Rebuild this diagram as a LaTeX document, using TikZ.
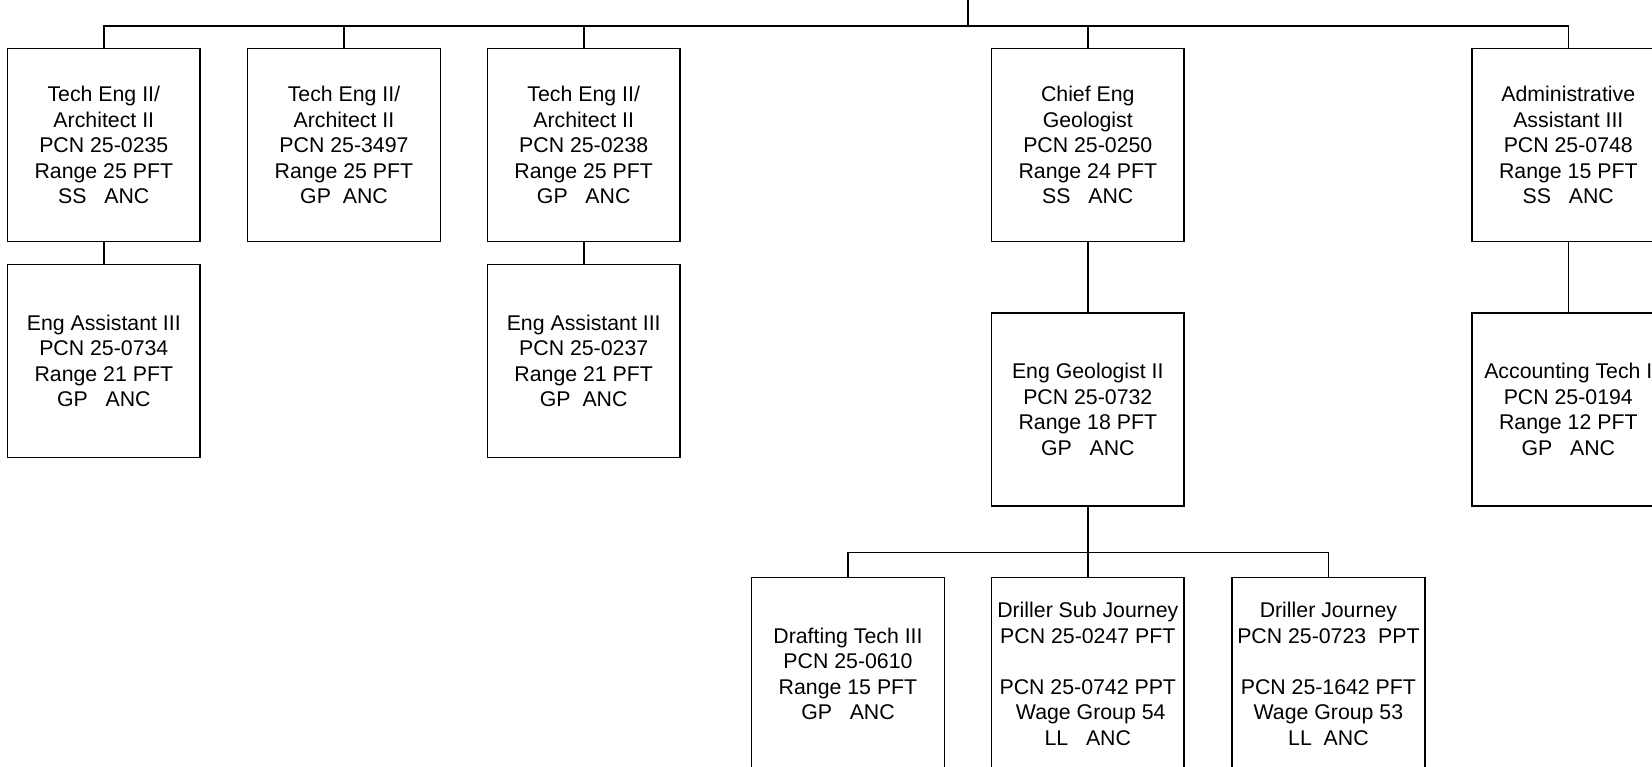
\documentclass[tikz,border=0pt]{standalone}
\usepackage{fontspec}
\setmainfont{Liberation Sans}
\begin{document}
\begin{tikzpicture}[x=1pt,y=-1pt,
  orgbox/.style={draw=black, line width=1.6pt, fill=white, minimum width=192.8pt, minimum height=192.8pt,
    inner sep=0pt, align=center, font=\fontsize{21.3}{25.5}\selectfont},
  conn/.style={draw=black, line width=1.6pt}]
\useasboundingbox (0,0) rectangle (1652,766);
\clip (0,0) rectangle (1652,766);
\fill[white] (0,0) rectangle (1652,766);
% row 1
\node[orgbox] (A) at (103.8,145) {Tech Eng II/\\Architect II\\PCN 25-0235\\Range 25 PFT\\SS\ \ \ ANC};
\node[orgbox] (B) at (344,145) {Tech Eng II/\\Architect II\\PCN 25-3497\\Range 25 PFT\\GP\ \ ANC};
\node[orgbox] (C) at (583.7,145) {Tech Eng II/\\Architect II\\PCN 25-0238\\Range 25 PFT\\GP\ \ \ ANC};
\node[orgbox] (D) at (1087.8,145) {Chief Eng\\Geologist\\PCN 25-0250\\Range 24 PFT\\SS\ \ \ ANC};
\node[orgbox] (E) at (1568.3,145) {Administrative\\Assistant III\\PCN 25-0748\\Range 15 PFT\\SS\ \ \ ANC};
% row 2
\node[orgbox] (A2) at (103.8,361) {Eng Assistant III\\PCN 25-0734\\Range 21 PFT\\GP\ \ \ ANC};
\node[orgbox] (C2) at (583.7,361) {Eng Assistant III\\PCN 25-0237\\Range 21 PFT\\GP\ \ ANC};
\node[orgbox] (D2) at (1087.8,409.3) {Eng Geologist II\\PCN 25-0732\\Range 18 PFT\\GP\ \ \ ANC};
\node[orgbox] (E2) at (1568.3,409.3) {Accounting Tech I\\PCN 25-0194\\Range 12 PFT\\GP\ \ \ ANC};
% row 3
\node[orgbox] (F1) at (848,673.9) {Drafting Tech III\\PCN 25-0610\\Range 15 PFT\\GP\ \ \ ANC};
\node[orgbox] (F2) at (1087.8,673.9) {Driller Sub Journey\\PCN 25-0247 PFT\\[25.5pt]PCN 25-0742 PPT\\\ Wage Group 54\\LL\ \ \ ANC};
\node[orgbox] (F3) at (1328.4,673.9) {Driller Journey\\PCN 25-0723\ \ PPT\\[25.5pt]PCN 25-1642 PFT\\Wage Group 53\\LL\ \ ANC};
% connectors
\coordinate (topin) at (968,0);
\coordinate (bus) at (968,26);
\draw[conn] (topin) -- (bus);
\draw[conn] (A.north) |- (bus) -| (E.north);
\draw[conn] (B.north) -- (B.north |- bus);
\draw[conn] (C.north) -- (C.north |- bus);
\draw[conn] (D.north) -- (D.north |- bus);
\draw[conn] (A.south) -- (A2.north);
\draw[conn] (C.south) -- (C2.north);
\draw[conn] (D.south) -- (D2.north);
\draw[conn] (E.south) -- (E2.north);
\coordinate (bus2) at (1087.8,552.5);
\draw[conn] (D2.south) -- (F2.north);
\draw[conn] (F1.north) |- (bus2) -| (F3.north);
\end{tikzpicture}
\end{document}
